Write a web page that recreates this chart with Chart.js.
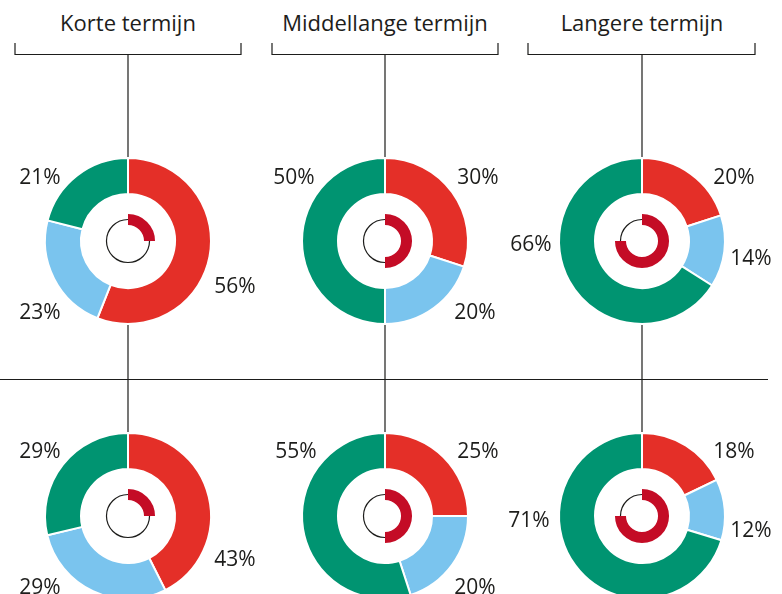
<!DOCTYPE html>
<html>
<head>
<meta charset="utf-8">
<script src="https://cdn.jsdelivr.net/npm/chart.js@4.4.0/dist/chart.umd.min.js"></script>
<style>
  body { margin: 0; width: 782px; height: 594px; overflow: hidden; background: #fff; position: relative; }
  svg { position: absolute; left: 0; top: 0; }
  canvas { position: absolute; }
</style>
</head>
<body>
<svg id="frame" width="782" height="594"></svg>

<script>
// column titles
const columns = ["Korte termijn", "Middellange termijn", "Langere termijn"];

// outer ring shares per donut (top row then bottom row)
const redShare = [56, 30, 20, 43, 25, 18];
const blueShare = [23, 20, 14, 29, 20, 12];
const greenShare = [21, 50, 66, 29, 55, 71];

// inner small ring
const innerShare = [25, 50, 75, 25, 50, 75];

// layout stuff (not data)
const centersX = [128, 385, 642];
const centersY = [241, 516];
const bracketEnds = [[15, 241], [272, 498], [528, 755]];
// where each label sits relative to the donut centre: red, blue, green
const labelSpots = [
  [[107, 44], [-88, 70], [-88, -65]],
  [[93, -65], [90, 70], [-91, -65]],
  [[92, -65], [109, 16], [-111, 2]],
  [[107, 42], [-88, 70], [-88, -66]],
  [[93, -66], [90, 70], [-89, -66]],
  [[92, -66], [109, 13], [-113, 3]]
];

const ink = "#1d1d1b";
const red = "#e42f28";
const blue = "#7ac4ee";
const green = "#009471";
const crimson = "#c40c26";
const font = '"Open Sans", sans-serif';

// headers, brackets and connector lines
const svg = document.getElementById("frame");
let s = "";
columns.forEach(function (name, i) {
  const cx = centersX[i];
  const [x0, x1] = bracketEnds[i];
  s += '<text x="' + cx + '" y="31" text-anchor="middle" font-family=\'' + font + '\' font-size="22" fill="' + ink + '">' + name + '</text>';
  s += '<path d="M' + x0 + ',43 V54.5 H' + x1 + ' V43" fill="none" stroke="' + ink + '" stroke-width="1.2"/>';
  s += '<path d="M' + cx + ',54 V162 M' + cx + ',320 V436" fill="none" stroke="' + ink + '" stroke-width="1.2"/>';
});
s += '<path d="M0,379.5 H768" stroke="' + ink + '" stroke-width="1.2"/>';
svg.innerHTML = s;

// thin black circle behind the inner ring
const ringLine = {
  id: "ringLine",
  beforeDatasetsDraw(chart) {
    const arc = chart.getDatasetMeta(2).data[0];
    const r = (arc.innerRadius + arc.outerRadius) / 2;
    const ctx = chart.ctx;
    ctx.save();
    ctx.beginPath();
    ctx.arc(arc.x, arc.y, r, 0, Math.PI * 2);
    ctx.lineWidth = 1.2;
    ctx.strokeStyle = ink;
    ctx.stroke();
    ctx.restore();
  }
};

function pctLabels(spots) {
  return {
    id: "pctLabels",
    afterDatasetsDraw(chart) {
      const meta = chart.getDatasetMeta(0);
      const vals = chart.data.datasets[0].data;
      const ctx = chart.ctx;
      ctx.save();
      ctx.font = "21px " + font;
      ctx.fillStyle = ink;
      ctx.textAlign = "center";
      ctx.textBaseline = "alphabetic";
      meta.data.forEach(function (arc, i) {
        ctx.fillText(vals[i] + "%", arc.x + spots[i][0], arc.y + spots[i][1] + 7.5);
      });
      ctx.restore();
    }
  };
}

const size = 280;
for (let k = 0; k < 6; k++) {
  const col = k % 3;
  const row = Math.floor(k / 3);
  const cv = document.createElement("canvas");
  cv.width = size;
  cv.height = size;
  cv.style.left = (centersX[col] - size / 2) + "px";
  cv.style.top = (centersY[row] - size / 2) + "px";
  document.body.appendChild(cv);

  new Chart(cv.getContext("2d"), {
    type: "doughnut",
    data: {
      labels: ["rood", "blauw", "groen"],
      datasets: [
        {
          data: [redShare[k], blueShare[k], greenShare[k]],
          backgroundColor: [red, blue, green],
          borderColor: "#ffffff",
          borderWidth: 2,
          weight: 36
        },
        {
          data: [1],
          backgroundColor: "rgba(0,0,0,0)",
          borderWidth: 0,
          weight: 20
        },
        {
          data: [innerShare[k], 100 - innerShare[k]],
          backgroundColor: [crimson, "rgba(0,0,0,0)"],
          borderWidth: 0,
          weight: 11
        }
      ]
    },
    options: {
      responsive: false,
      animation: false,
      events: [],
      radius: 83,
      cutout: "19.3%",
      layout: { padding: 0 },
      plugins: {
        legend: { display: false },
        tooltip: { enabled: false }
      }
    },
    plugins: [ringLine, pctLabels(labelSpots[k])]
  });
}
</script>
</body>
</html>
